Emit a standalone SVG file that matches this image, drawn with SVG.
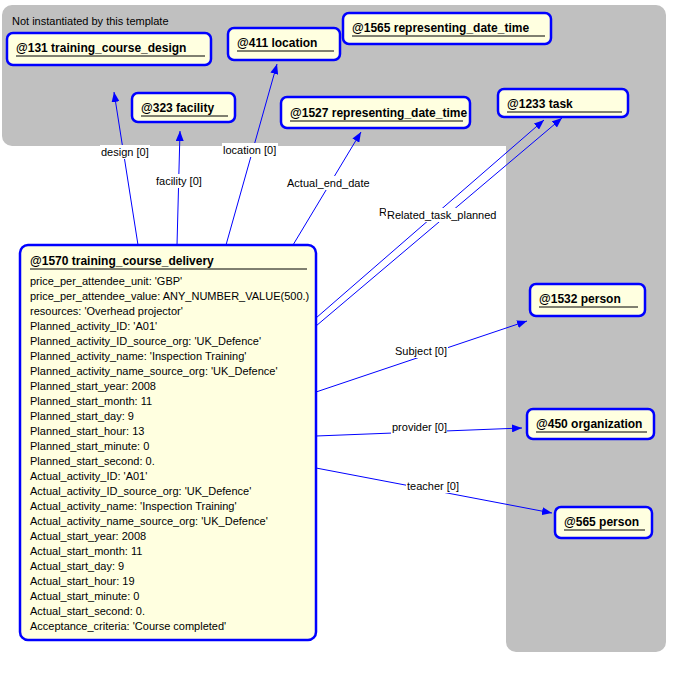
<svg xmlns="http://www.w3.org/2000/svg" width="679" height="680" viewBox="0 0 679 680">
<style>
.n{fill:#ffffe0;stroke:#0000ff;stroke-width:2.5}
.t{font-family:"Liberation Sans",Arial,sans-serif;font-size:12px;font-weight:bold;fill:#000}
.a{font-family:"Liberation Sans",Arial,sans-serif;font-size:11px;fill:#000}
.u{stroke:#000;stroke-width:1}
.c{stroke:#0000ff;stroke-width:1;fill:none;marker-end:url(#ar)}
.lb{fill:#fff}
</style>
<defs><marker id="ar" markerWidth="10" markerHeight="8" refX="10" refY="4" orient="auto" markerUnits="userSpaceOnUse"><path d="M0,0L10,4L0,8z" fill="#0000ff"/></marker></defs>
<path d="M12,5H656a10,10 0 0 1 10,10V642a10,10 0 0 1-10,10H516a10,10 0 0 1-10-10V146H12a10,10 0 0 1-10-10V15A10,10 0 0 1 12,5z" fill="#c0c0c0"/>
<text class="a" x="12" y="25">Not instantiated by this template</text>
<g id="connectors">
<line class="c" x1="138" y1="245" x2="114" y2="92"/>
<line class="c" x1="177" y1="245" x2="180" y2="131"/>
<line class="c" x1="226" y1="245" x2="277" y2="64"/>
<line class="c" x1="293" y1="245" x2="361" y2="132"/>
<line class="c" x1="316" y1="318" x2="544" y2="120"/>
<line class="c" x1="316" y1="326" x2="562" y2="118"/>
<line class="c" x1="316" y1="392" x2="527" y2="321"/>
<line class="c" x1="316" y1="436" x2="522" y2="428"/>
<line class="c" x1="316" y1="468" x2="552" y2="513"/>
<rect class="lb" x="100" y="145" width="50" height="14"/><text class="a" x="101" y="156">design [0]</text>
<rect class="lb" x="155" y="174" width="48" height="14"/><text class="a" x="156" y="185">facility [0]</text>
<rect class="lb" x="222" y="143" width="56" height="14"/><text class="a" x="223" y="154">location [0]</text>
<rect class="lb" x="286" y="176" width="83" height="14"/><text class="a" x="287" y="187">Actual_end_date</text>
<text class="a" x="379" y="216">R</text>
<rect class="lb" x="386" y="208" width="109" height="14"/><text class="a" x="387" y="219">Related_task_planned</text>
<rect class="lb" x="394" y="344" width="54" height="14"/><text class="a" x="395" y="355">Subject [0]</text>
<rect class="lb" x="391" y="420" width="56" height="14"/><text class="a" x="392" y="431">provider [0]</text>
<rect class="lb" x="406" y="479" width="53" height="14"/><text class="a" x="407" y="490">teacher [0]</text>
</g>
<g id="n131"><rect class="n" x="7" y="33" width="204" height="32" rx="6"/><text class="t" x="16" y="52">@131 training_course_design</text><line class="u" x1="16" y1="56" x2="205" y2="56"/></g>
<g id="n411"><rect class="n" x="228" y="28" width="112" height="32" rx="6"/><text class="t" x="237" y="47">@411 location</text><line class="u" x1="237" y1="51" x2="334" y2="51"/></g>
<g id="n1565"><rect class="n" x="343" y="13" width="208" height="31" rx="6"/><text class="t" x="352" y="32">@1565 representing_date_time</text><line class="u" x1="352" y1="36" x2="545" y2="36"/></g>
<g id="n323"><rect class="n" x="132" y="93" width="103" height="29" rx="6"/><text class="t" x="141" y="112">@323 facility</text><line class="u" x1="141" y1="116" x2="228" y2="116"/></g>
<g id="n1527"><rect class="n" x="281" y="97" width="189" height="31" rx="6"/><text class="t" x="290" y="117">@1527 representing_date_time</text><line class="u" x1="290" y1="121" x2="463" y2="121"/></g>
<g id="n1233"><rect class="n" x="498" y="89" width="130" height="28" rx="6"/><text class="t" x="507" y="108">@1233 task</text><line class="u" x1="507" y1="112" x2="622" y2="112"/></g>
<g id="n1532"><rect class="n" x="530" y="284" width="115" height="32" rx="6"/><text class="t" x="539" y="303">@1532 person</text><line class="u" x1="539" y1="307" x2="638" y2="307"/></g>
<g id="n450"><rect class="n" x="527" y="409" width="127" height="30" rx="6"/><text class="t" x="536" y="428">@450 organization</text><line class="u" x1="536" y1="432" x2="647" y2="432"/></g>
<g id="n565"><rect class="n" x="555" y="507" width="97" height="31" rx="6"/><text class="t" x="564" y="526">@565 person</text><line class="u" x1="564" y1="530" x2="645" y2="530"/></g>
<g id="n1570"><rect class="n" x="20" y="245" width="296" height="395" rx="8"/>
<text class="t" x="30" y="265">@1570 training_course_delivery</text><line class="u" x1="30" y1="269" x2="307" y2="269"/>
<text class="a" x="30" y="285">price_per_attendee_unit: 'GBP'</text>
<text class="a" x="30" y="300">price_per_attendee_value: ANY_NUMBER_VALUE(500.)</text>
<text class="a" x="30" y="315">resources: 'Overhead projector'</text>
<text class="a" x="30" y="330">Planned_activity_ID: 'A01'</text>
<text class="a" x="30" y="345">Planned_activity_ID_source_org: 'UK_Defence'</text>
<text class="a" x="30" y="360">Planned_activity_name: 'Inspection Training'</text>
<text class="a" x="30" y="375">Planned_activity_name_source_org: 'UK_Defence'</text>
<text class="a" x="30" y="390">Planned_start_year: 2008</text>
<text class="a" x="30" y="405">Planned_start_month: 11</text>
<text class="a" x="30" y="420">Planned_start_day: 9</text>
<text class="a" x="30" y="435">Planned_start_hour: 13</text>
<text class="a" x="30" y="450">Planned_start_minute: 0</text>
<text class="a" x="30" y="465">Planned_start_second: 0.</text>
<text class="a" x="30" y="480">Actual_activity_ID: 'A01'</text>
<text class="a" x="30" y="495">Actual_activity_ID_source_org: 'UK_Defence'</text>
<text class="a" x="30" y="510">Actual_activity_name: 'Inspection Training'</text>
<text class="a" x="30" y="525">Actual_activity_name_source_org: 'UK_Defence'</text>
<text class="a" x="30" y="540">Actual_start_year: 2008</text>
<text class="a" x="30" y="555">Actual_start_month: 11</text>
<text class="a" x="30" y="570">Actual_start_day: 9</text>
<text class="a" x="30" y="585">Actual_start_hour: 19</text>
<text class="a" x="30" y="600">Actual_start_minute: 0</text>
<text class="a" x="30" y="615">Actual_start_second: 0.</text>
<text class="a" x="30" y="630">Acceptance_criteria: 'Course completed'</text>
</g>
</svg>
